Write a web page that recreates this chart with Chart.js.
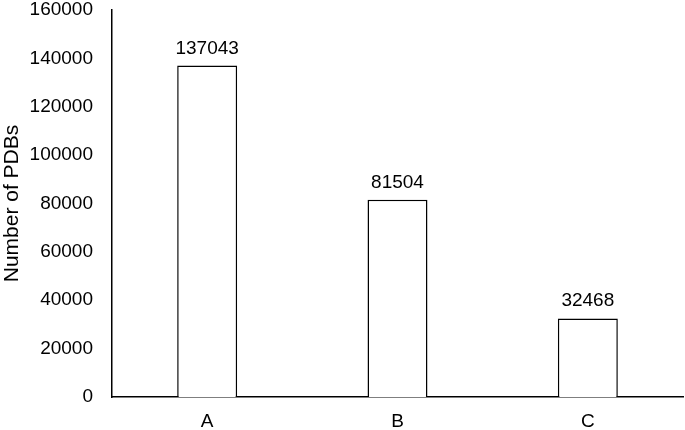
<!DOCTYPE html>
<html>
<head>
<meta charset="utf-8">
<script src="https://cdn.jsdelivr.net/npm/chart.js@4/dist/chart.umd.min.js"></script>
<style>
  html, body { margin: 0; padding: 0; background: #fff; }
  #wrap { width: 685px; height: 430px; }
</style>
</head>
<body>
<div id="wrap"><canvas id="chartPDB" width="685" height="430"></canvas></div>
<script>
const categories = ['A', 'B', 'C'];
const pdbCounts = [137043, 81504, 32468];
const yTicks = [0, 20000, 40000, 60000, 80000, 100000, 120000, 140000, 160000];

Chart.defaults.font.family = '"Liberation Sans", Arial, sans-serif';
Chart.defaults.font.size = 19;
Chart.defaults.color = '#000';

// labels over bars
const barLabels = {
    id: 'barLabels',
    afterDatasetsDraw(chart) {
        const ctx = chart.ctx;
        const meta = chart.getDatasetMeta(0);
        ctx.save();
        ctx.font = '19px "Liberation Sans", Arial, sans-serif';
        ctx.fillStyle = '#000';
        ctx.textAlign = 'center';
        ctx.textBaseline = 'alphabetic';
        meta.data.forEach((bar, i) => {
            ctx.fillText(String(pdbCounts[i]), bar.x, bar.y - 12);
        });
        ctx.restore();
    }
};

const ctxPDB = document.getElementById('chartPDB');
new Chart(ctxPDB.getContext('2d'), {
    type: 'bar',
    data: {
        labels: categories,
        datasets: [{
            label: 'Number of PDBs',
            data: pdbCounts,
            backgroundColor: '#fff',
            borderColor: '#000',
            borderWidth: 1.5,
            barPercentage: 0.9,
            categoryPercentage: 0.35
        }]
    },
    options: {
        responsive: false,
        animation: false,
        layout: { padding: { top: 10, right: 2, left: 0, bottom: 0 } },
        plugins: { legend: { display: false }, tooltip: { enabled: false } },
        scales: {
            x: {
                grid: { display: false, drawTicks: false },
                border: { color: '#000', width: 1.5 },
                ticks: { padding: 13 },
                afterFit(scale) { scale.height = 33; scale.paddingLeft = 0; scale.paddingRight = 0; }
            },
            y: {
                min: 0,
                max: 160000,
                afterBuildTicks(scale) { scale.ticks = yTicks.map(v => ({ value: v })); },
                grid: { display: false, drawTicks: false },
                border: { color: '#000', width: 1.5 },
                ticks: { padding: 19, callback: v => String(v) },
                title: { display: true, text: 'Number of PDBs', font: { size: 21 }, padding: 0 },
                afterFit(scale) { scale.width = 112; scale.paddingTop = 0; scale.paddingBottom = 0; }
            }
        }
    },
    plugins: [barLabels]
});
</script>
</body>
</html>
